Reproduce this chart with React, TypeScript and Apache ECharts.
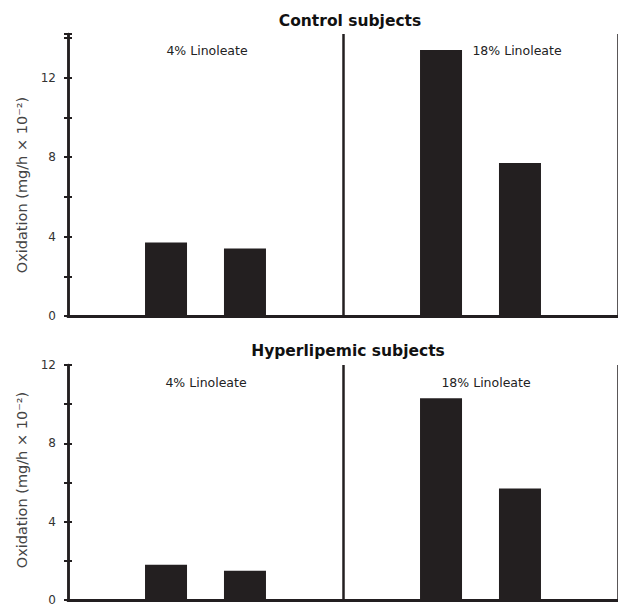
import React, { useEffect, useRef } from "react";
import * as echarts from "echarts";

const categories = ["4% Linoleate", "18% Linoleate"];
const controlFirst = [3.7, 13.4];
const controlSecond = [3.4, 7.7];
const hyperFirst = [1.8, 10.3];
const hyperSecond = [1.5, 5.7];
const topMax = 14.2;
const bottomMax = 12;
const labelledTicks = [0, 4, 8, 12];
const yName = "Oxidation (mg/h × 10⁻²)";

const FONT = "'DejaVu Sans', 'Noto Sans', sans-serif";
const INK = "#231f20";

export default function App() {
  const ref = useRef<HTMLDivElement>(null);
  useEffect(() => {
    if (!ref.current) return;
    const chart = echarts.init(ref.current, undefined, { renderer: "svg" });

    const mainY = (gridIndex: number, max: number) => ({
      type: "value",
      gridIndex,
      position: "left",
      min: 0,
      max,
      interval: 2,
      axisLine: { show: true, lineStyle: { color: INK, width: 2.5 } },
      axisTick: { show: true, length: 4, lineStyle: { color: INK, width: 2 } },
      axisLabel: {
        fontFamily: FONT,
        fontSize: 12,
        color: "#333",
        margin: 12,
        formatter: (v: number) => (labelledTicks.includes(v) ? String(v) : ""),
      },
      splitLine: { show: false },
    });
    const innerY = (gridIndex: number, max: number) => ({
      type: "value",
      gridIndex,
      position: "left",
      offset: 0,
      min: 0,
      max,
      interval: 2,
      axisLine: { show: false },
      axisTick: { show: true, inside: true, length: 4, lineStyle: { color: INK, width: 2 } },
      axisLabel: { show: false },
      splitLine: { show: false },
    });
    const bottomX = (gridIndex: number) => ({
      type: "category",
      gridIndex,
      data: categories,
      position: "bottom",
      axisLine: { show: true, lineStyle: { color: INK, width: 3 } },
      axisTick: { show: false },
      axisLabel: { show: false },
      splitLine: { show: true, interval: 0, lineStyle: { color: INK, width: 2.5 } },
    });
    const topX = (gridIndex: number) => ({
      type: "category",
      gridIndex,
      data: categories,
      position: "top",
      axisLine: { show: true, lineStyle: { color: INK, width: 2.5 } },
      axisTick: { show: false },
      axisLabel: { show: false },
      splitLine: { show: false },
    });
    const bar = (name: string, data: number[], axis: number) => ({
      type: "bar",
      name,
      data,
      xAxisIndex: axis,
      yAxisIndex: axis,
      barWidth: 42,
      barGap: "88%",
      itemStyle: { color: INK },
    });
    const panelLabel = (text: string, x: number, y: number) => ({
      type: "text",
      x,
      y,
      style: {
        text,
        fontFamily: FONT,
        fontSize: 12.5,
        fill: "#222",
        textAlign: "center",
        textVerticalAlign: "middle",
      },
    });
    const axisName = (y: number) => ({
      type: "text",
      x: 22,
      y,
      rotation: Math.PI / 2,
      style: {
        text: yName,
        fontFamily: FONT,
        fontSize: 14.5,
        fill: "#444",
        textAlign: "center",
        textVerticalAlign: "middle",
      },
    });

    chart.setOption({
      animation: false,
      backgroundColor: "#ffffff",
      title: [
        {
          text: "Control subjects",
          left: 345,
          top: 8,
          textAlign: "center",
          textStyle: { fontFamily: FONT, fontSize: 15.5, fontWeight: "bold", color: "#111" },
        },
        {
          text: "Hyperlipemic subjects",
          left: 343,
          top: 338,
          textAlign: "center",
          textStyle: { fontFamily: FONT, fontSize: 15.5, fontWeight: "bold", color: "#111" },
        },
      ],
      grid: [
        { left: 68, top: 34, right: -5, height: 282 },
        { left: 68, top: 365, right: -5, height: 235 },
      ],
      xAxis: [bottomX(0), topX(0), bottomX(1), topX(1)],
      yAxis: [mainY(0, topMax), innerY(0, topMax), mainY(1, bottomMax), innerY(1, bottomMax)],
      series: [
        bar("Control A", controlFirst, 0),
        bar("Control B", controlSecond, 0),
        bar("Hyperlipemic A", hyperFirst, 2),
        bar("Hyperlipemic B", hyperSecond, 2),
      ],
      graphic: [
        panelLabel(categories[0], 207, 50),
        panelLabel(categories[1], 517, 50),
        panelLabel(categories[0], 206, 382),
        panelLabel(categories[1], 486, 382),
        axisName(185),
        axisName(480),
      ],
    });
    return () => chart.dispose();
  }, []);
  return (
    <div
      ref={ref}
      style={{ position: "absolute", left: 0, top: 0, width: 618, height: 606, background: "#fff" }}
    />
  );
}
